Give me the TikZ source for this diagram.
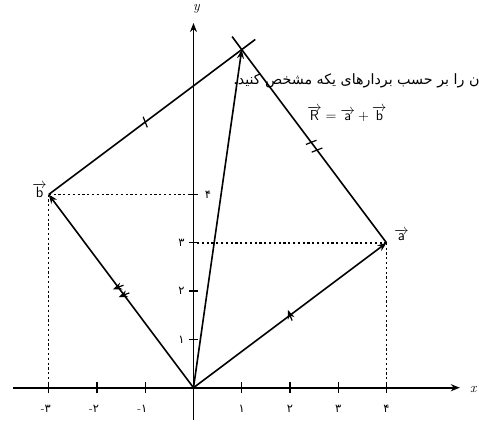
\documentclass[tikz,border=0pt]{standalone}
\usepackage{fontspec}
\usetikzlibrary{arrows.meta,decorations.markings,calc}
\newfontfamily\arabicfont[Script=Arabic]{DejaVu Sans}
\TeXXeTstate=1
\begin{document}
\begin{tikzpicture}[x=48.25bp,y=48.3bp,
  axisline/.style={line width=1.7bp,-{Stealth[length=9bp,width=7bp]}},
  vec/.style={line width=1.6bp,-{Stealth[length=9bp,width=7bp]}},
  side/.style={line width=1.6bp},
  guide/.style={line width=1.4bp,dash pattern=on 2.2bp off 2.6bp},
  tickmark/.style={line width=1.3bp},
  onetick/.style={postaction={decorate},decoration={markings,
     mark=at position 0.5 with {\draw[line width=1.2bp] (-1.5bp,-5.5bp)--(1.5bp,5.5bp);}}},
  twotick/.style={postaction={decorate},decoration={markings,
     mark=at position 0.48 with {\draw[line width=1.2bp] (-1.5bp,-5.5bp)--(1.5bp,5.5bp);},
     mark=at position 0.52 with {\draw[line width=1.2bp] (-1.5bp,-5.5bp)--(1.5bp,5.5bp);}}},
  digit/.style={font=\fontsize{11.5}{12}\selectfont,inner sep=0pt}
]
\useasboundingbox (-4.010,-0.834) rectangle (5.917,8.027);

% Persian sentence
\node[anchor=west,inner sep=0pt,font=\arabicfont\fontsize{14.3}{16}\selectfont] (txt) at (0.82,6.36)
  {\beginR ن را بر حسب بردارهای یکه مشخص کنید.\endR};

\coordinate (O) at (0,0);
\coordinate (A) at (4,3);
\coordinate (B) at (-3,4);
\coordinate (S) at (1,7);
\coordinate (E1) at (1.28,7.21);
\coordinate (E2) at (0.80,7.27);
\coordinate (XL) at (-3.74,0);
\coordinate (XR) at (5.52,0);
\coordinate (YB) at (0,-0.67);
\coordinate (YT) at (0,7.55);
\coordinate (Ay) at (0,3);
\coordinate (Ax) at (4,0);
\coordinate (By) at (0,4);
\coordinate (Bx) at (-3,0);

% guides
\draw[guide] (B) -- (By);
\draw[guide] (B) -- (Bx);
\draw[guide] (A) -- (Ay);
\draw[guide] (A) -- (Ax);

% axes
\draw[axisline] (XL) -- (XR);
\draw[axisline] (YB) -- (YT);
\node[font=\itshape\fontsize{14}{14}\selectfont] (xl) at (5.80,-0.04) {x};
\node[font=\itshape\fontsize{14}{14}\selectfont] (yl) at (0.06,7.84) {y};

\foreach \i in {-3,-2,-1,1,2,3,4} \draw[tickmark] (\i,-0.11) -- (\i,0.11);
\foreach \i in {1,2,3,4} \draw[tickmark] (-0.09,\i) -- (0.09,\i);

% x tick labels
\node[digit] (xm3) at (-3.06,-0.43) {-{\arabicfont ۳}};
\node[digit] (xm2) at (-2.06,-0.43) {-{\arabicfont ۲}};
\node[digit] (xm1) at (-1.06,-0.43) {-{\arabicfont ۱}};
\node[digit] (x1) at (1,-0.43) {\arabicfont ۱};
\node[digit] (x2) at (2,-0.43) {\arabicfont ۲};
\node[digit] (x3) at (3,-0.43) {\arabicfont ۳};
\node[digit] (x4) at (4,-0.43) {\arabicfont ۴};
% y tick labels
\node[digit] (y1) at (-0.25,1) {\arabicfont ۱};
\node[digit] (y2) at (-0.25,2) {\arabicfont ۲};
\node[digit] (y3) at (-0.25,3) {\arabicfont ۳};
\node[digit] (y4) at (0.30,4) {\arabicfont ۴};

% parallelogram sides
\draw[side,onetick] (B) -- (S);
\draw[side] (S) -- (E1);
\draw[side,twotick] (A) -- (S);
\draw[side] (S) -- (E2);

% vectors
\draw[vec,onetick] (O) -- (A);
\draw[vec,twotick] (O) -- (B);
\draw[vec] (O) -- (S);

% labels
\node[font=\fontsize{15}{17}\selectfont] (la) at (4.31,3.17) {$\overrightarrow{\mathsf{a}}$};
\node[font=\fontsize{15}{17}\selectfont] (lb) at (-3.19,4.09) {$\overrightarrow{\mathsf{b}}$};
\node[font=\fontsize{14.5}{17}\selectfont] (lr) at (3.18,5.67) {$\overrightarrow{\mathsf{R}}=\overrightarrow{\mathsf{a}}+\overrightarrow{\mathsf{b}}$};
\end{tikzpicture}
\end{document}
